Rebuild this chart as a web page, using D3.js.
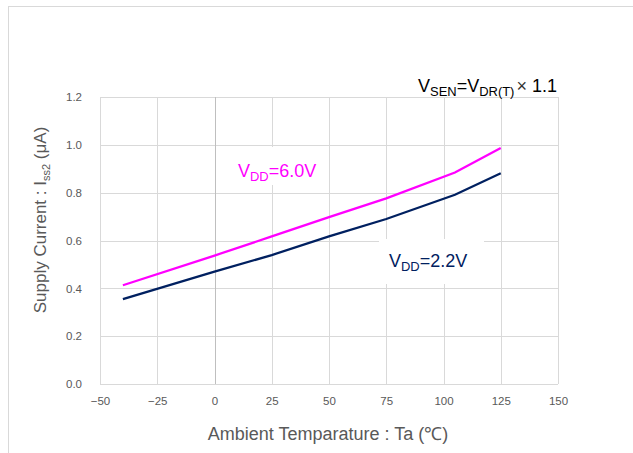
<!DOCTYPE html>
<html><head><meta charset="utf-8">
<script src="https://cdn.jsdelivr.net/npm/d3@7"></script>
<style>body{margin:0;background:#fff}svg{display:block}</style>
</head><body><svg id="c" width="633" height="453"></svg>
<script>
const temps = [-40, 0, 25, 50, 75, 105, 125];
const vdd60 = [0.413, 0.537, 0.617, 0.698, 0.776, 0.884, 0.987];
const vdd22 = [0.355, 0.470, 0.539, 0.617, 0.690, 0.791, 0.881];
const xTicks = [-50, -25, 0, 25, 50, 75, 100, 125, 150];
const yTicks = [0, 0.2, 0.4, 0.6, 0.8, 1.0, 1.2];

const svg = d3.select("#c");
const x = d3.scaleLinear().domain([-50, 150]).range([100, 558]);
const y = d3.scaleLinear().domain([0, 1.2]).range([384, 97]);

// outer frame
svg.append("rect").attr("x", 8.5).attr("y", 6.5).attr("width", 640).attr("height", 460)
  .attr("fill", "#fff").attr("stroke", "#d9d9d9");

// grid
svg.append("g").selectAll("line").data(yTicks).join("line")
  .attr("x1", x(-50)).attr("x2", x(150))
  .attr("y1", d => Math.round(y(d)) + 0.5).attr("y2", d => Math.round(y(d)) + 0.5)
  .attr("stroke", "#d9d9d9").attr("stroke-width", 1);
svg.append("g").selectAll("line").data(xTicks).join("line")
  .attr("x1", d => Math.round(x(d)) + 0.5).attr("x2", d => Math.round(x(d)) + 0.5)
  .attr("y1", y(1.2)).attr("y2", y(0))
  .attr("stroke", d => d === 0 ? "#bfbfbf" : "#d9d9d9").attr("stroke-width", 1);

// axes (labels only)
const xa = svg.append("g").attr("transform", `translate(0,${y(0)})`)
  .call(d3.axisBottom(x).tickValues(xTicks).tickSize(0).tickPadding(13).tickFormat(d3.format("d")));
const ya = svg.append("g").attr("transform", `translate(${x(-50)},0)`)
  .call(d3.axisLeft(y).tickValues(yTicks).tickSize(0).tickPadding(18).tickFormat(d3.format(".1f")));
[xa, ya].forEach(a => {
  a.select(".domain").remove();
  a.selectAll("text").attr("fill", "#595959").style("font-family", "Liberation Sans, Arial, sans-serif").style("font-size", "11.5px");
});

// lines
const line = d3.line().x(d => x(d[0])).y(d => y(d[1]));
svg.append("path").datum(temps.map((t, i) => [t, vdd60[i]])).attr("d", line)
  .attr("fill", "none").attr("stroke", "#ff00ff").attr("stroke-width", 2.25);
svg.append("path").datum(temps.map((t, i) => [t, vdd22[i]])).attr("d", line)
  .attr("fill", "none").attr("stroke", "#002060").attr("stroke-width", 2.25);

const font = "Liberation Sans, Arial, sans-serif";
function label(tx, ty, parts, color, size, box) {
  if (box) svg.append("rect").attr("x", box[0]).attr("y", box[1]).attr("width", box[2]).attr("height", box[3]).attr("fill", "#fff");
  const t = svg.append("text").attr("x", tx).attr("y", ty).attr("fill", color)
    .style("font-family", font).style("font-size", size + "px");
  let sub = false;
  parts.forEach(p => {
    const s = t.append("tspan").text(p.t);
    if (p.c) s.attr("fill", p.c);
    if (p.dx) s.attr("dx", p.dx);
    if (p.sub && !sub) { s.attr("dy", 4).style("font-size", (size * 0.72) + "px"); sub = true; }
    else if (!p.sub && sub) { s.attr("dy", -4); sub = false; }
  });
  return t;
}
label(238, 177, [{t:"V"},{t:"DD",sub:true},{t:"=6.0V"}], "#ff00ff", 18, [228, 147, 100, 38]);
label(389, 267, [{t:"V"},{t:"DD",sub:true},{t:"=2.2V"}], "#002060", 18, [379, 239, 105, 45]);
label(418, 92, [{t:"V"},{t:"SEN",sub:true},{t:"=V"},{t:"DR(T)",sub:true},{t:"\u00D7", c:"#333", dx:2},{t:" 1.1"}], "#000", 18, null);

// axis titles
svg.append("text").attr("transform", `translate(46,220) rotate(-90)`).attr("text-anchor", "middle")
  .attr("fill", "#595959").style("font-family", font).style("font-size", "17px")
  .call(t => { t.append("tspan").text("Supply Current : I");
               t.append("tspan").text("ss2").attr("dy", 4).style("font-size", "11px");
               t.append("tspan").text(" (\u03BCA)").attr("dy", -4); });
svg.append("text").attr("x", 328).attr("y", 440).attr("text-anchor", "middle")
  .attr("fill", "#595959").style("font-family", font).style("font-size", "18px")
  .text("Ambient Temparature : Ta (\u2103)");
</script></body></html>
